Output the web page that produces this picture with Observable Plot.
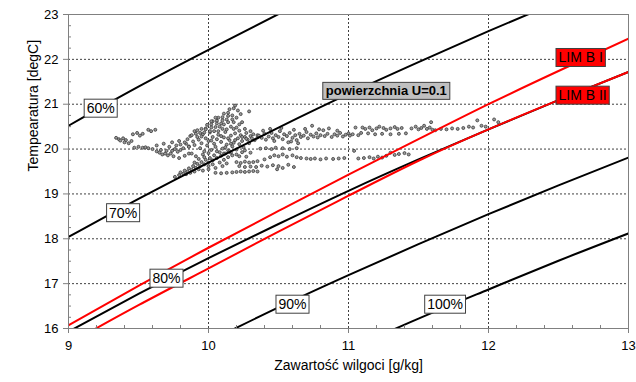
<!DOCTYPE html>
<html><head><meta charset="utf-8">
<script src="https://cdn.jsdelivr.net/npm/d3@7"></script>
<script src="https://cdn.jsdelivr.net/npm/@observablehq/plot@0.6"></script>
<style>
body{margin:0;background:#fff;}
svg{font-family:"Liberation Sans",Arial,sans-serif;}
</style>
</head><body><div id="chart"></div>
<script>
// ---- axes ----
const xTicks = [9, 10, 11, 12, 13];
const yTicks = [16, 17, 18, 19, 20, 21, 22, 23];
const xGrid = [10, 11, 12];
const yGrid = [17, 18, 19, 20, 21, 22];
const xMinor = [9.2,9.4,9.6,9.8,10.2,10.4,10.6,10.8,11.2,11.4,11.6,11.8,12.2,12.4,12.6,12.8];
const yMinor = [16.25,16.5,16.75,17.25,17.5,17.75,18.25,18.5,18.75,19.25,19.5,19.75,20.25,20.5,20.75,21.25,21.5,21.75,22.25,22.5,22.75];
const xTitle = "Zawartość wilgoci [g/kg]";
const yTitle = "Tempearatura [degC]";

// ---- relative humidity curves (moisture content g/kg -> temperature) ----
const rh60X = [9, 9.5, 10, 10.5];
const rh60T = [20.52, 21.39, 22.21, 23.01];
const rh70X = [9, 9.5, 10, 10.5, 11, 11.5, 12, 12.5];
const rh70T = [18.04, 18.89, 19.70, 20.48, 21.23, 21.94, 22.63, 23.29];
const rh80X = [9, 9.5, 10, 10.5, 11, 11.5, 12, 12.5, 13];
const rh80T = [15.93, 16.77, 17.57, 18.33, 19.07, 19.77, 20.44, 21.09, 21.72];
const rh90X = [10, 10.5, 11, 11.5, 12, 12.5, 13];
const rh90T = [15.71, 16.47, 17.19, 17.88, 18.55, 19.19, 19.81];
const rh100X = [11, 11.5, 12, 12.5, 13];
const rh100T = [15.53, 16.22, 16.87, 17.51, 18.12];

// ---- limit lines ----
const limX = [9, 9.5, 10, 10.5, 11, 11.5, 12, 12.5, 13];
const limB1T = [16.07, 16.95, 17.80, 18.62, 19.43, 20.22, 21.00, 21.74, 22.46];
const limB2T = [15.66, 16.52, 17.34, 18.16, 18.96, 19.74, 20.44, 21.09, 21.72];

// ---- labels ----
const rhLabels = ["60%", "70%", "80%", "90%", "100%"];
const rhLabelX = [9.23, 9.39, 9.70, 10.60, 11.69];
const rhLabelY = [20.90, 18.57, 17.11, 16.53, 16.53];
const surfLabel = "powierzchnia U=0.1";
const surfLabelX = 11.27, surfLabelY = 21.29;
const limLabels = ["LIM B I", "LIM B II"];
const limLabelX = [12.50, 12.50];
const limLabelY = [22.03, 21.19];

// ---- measured points [moisture g/kg, temperature degC] ----
const tailPts = [
 [9.34,20.25],[9.36,20.22],[9.37,20.19],[9.39,20.24],[9.41,20.20],[9.40,20.15],[9.43,20.13],[9.45,20.18],
 [9.46,20.33],[9.49,20.36],[9.51,20.30],[9.53,20.34],[9.57,20.43],[9.59,20.40],[9.62,20.43],
 [9.47,20.03],[9.50,20.05],[9.53,20.03],[9.55,20.04],[9.57,20.02],[9.60,20.00],[9.63,19.95],[9.65,19.92],
 [9.67,19.88],[9.69,19.90],[9.71,19.86],[9.73,19.90],[9.66,19.98],[9.70,19.96],[9.74,19.96],[9.76,20.00],
 [9.78,19.94],[9.80,19.98],[9.82,20.02],[9.72,20.05],[9.77,20.08],[9.80,20.10],[9.84,20.12],[9.86,20.06],
 [9.75,19.84],[9.79,19.80],[9.83,19.85],[9.86,19.90],[9.68,20.12],[9.74,20.15],[9.79,20.18],[9.63,20.08]
];
const blobPts = [
 [9.85,20.22],[9.87,20.29],[9.89,20.17],[9.90,20.09],[9.92,20.27],[9.93,20.21],[9.94,20.02],[9.95,20.13],
 [9.96,20.33],[9.97,19.95],[9.98,20.24],[9.99,20.08],[10.00,20.18],[10.01,20.37],[10.02,19.98],[10.03,20.27],
 [10.04,20.12],[10.05,20.05],[10.06,20.22],[10.07,20.32],[10.08,19.93],[10.09,20.16],[10.10,20.01],[10.11,20.26],
 [10.12,20.38],[10.13,20.10],[10.14,19.97],[10.15,20.20],[10.16,20.30],[10.17,20.06],[10.18,20.14],[10.19,20.35],
 [10.20,19.99],[10.21,20.24],[10.22,20.11],[10.23,20.31],[10.24,20.18],[10.25,20.04],[10.26,20.27],[10.27,20.36],
 [10.28,20.21],[10.29,20.13],[10.30,20.29],[10.31,20.24],[10.32,20.33],[10.33,20.20],[9.88,19.90],[9.91,19.84],
 [9.96,19.88],[10.00,19.91],[10.04,19.86],[10.07,20.40],[10.13,20.44],[10.18,20.45],[10.22,20.41],[9.90,20.40],
 [9.94,20.36],[10.09,20.29],[10.02,20.19],[10.14,20.24],[10.19,20.20],[10.24,20.27],[10.12,20.04],[10.16,20.12],
 [10.27,20.23],[10.35,20.26],[10.35,20.31],[9.83,20.15],[9.86,20.05],[10.06,19.95],[10.11,19.90],[10.16,19.92],
 [10.20,19.88],[10.24,19.93],[10.26,19.97],[10.30,19.92],[10.22,19.84],[10.27,19.83],
 [9.88,20.31],[9.91,20.34],[9.92,20.42],[9.95,20.45],[9.98,20.46],[9.99,20.54],[10.02,20.55],[10.03,20.62],
 [10.06,20.63],[10.07,20.70],[10.10,20.71],[10.11,20.79],[10.14,20.81],[10.15,20.89],[10.18,20.91],[10.19,20.97],
 [9.95,20.28],[9.97,20.37],[10.01,20.40],[10.02,20.48],[10.05,20.49],[10.06,20.57],[10.09,20.57],[10.10,20.64],
 [10.13,20.66],[10.14,20.74],[10.17,20.75],[10.21,20.86],[10.23,20.78],[10.29,20.84],[10.18,20.60],[10.22,20.55],
 [9.76,19.38],[9.79,19.42],[9.82,19.45],[9.85,19.50],[9.88,19.54],[9.91,19.58],[9.94,19.62],[9.97,19.66],
 [10.00,19.70],[10.03,19.75],[10.06,19.80],[10.09,19.85],[10.12,19.90],[10.15,19.95],
 [9.83,19.52],[9.86,19.57],[9.89,19.62],[9.92,19.67],[9.95,19.71],[9.98,19.76],[10.01,19.80],[9.96,19.52],[10.00,19.55],
 [9.80,19.48],[9.84,19.44],[9.87,19.47],[9.90,19.50],[9.93,19.55],[9.90,19.70],[9.93,19.78],[9.97,19.82],
 [10.00,19.62],[10.03,19.66],[10.05,19.58],[10.08,19.70],[10.11,19.76],[10.14,19.82],[10.17,19.86],[10.10,19.62],
 [10.13,19.68],[10.02,20.62],[10.05,20.70],[10.08,20.50],[10.11,20.55],[10.14,20.60],[10.17,20.66],[10.20,20.70],
 [10.10,20.45],[10.16,20.50],[10.20,20.48],[10.24,20.60],[9.98,20.44],[10.04,20.40],[10.26,20.45],[10.30,20.40]
];
const upperBandPts = [
 [10.36,20.30],[10.38,20.25],[10.40,20.34],[10.41,20.21],[10.43,20.28],[10.45,20.36],[10.46,20.24],[10.48,20.31],
 [10.50,20.27],[10.51,20.40],[10.53,20.22],[10.54,20.33],[10.56,20.29],[10.58,20.36],[10.59,20.17],[10.60,20.25],
 [10.62,20.31],[10.63,20.20],[10.65,20.34],[10.66,20.27],[10.68,20.30],[10.70,20.38],[10.71,20.24],[10.73,20.32],
 [10.74,20.52],[10.75,20.28],[10.77,20.35],[10.78,20.26],[10.80,20.31],[10.82,20.42],[10.83,20.29],[10.85,20.34],
 [10.86,20.46],[10.88,20.27],[10.90,20.33],[10.92,20.30],[10.94,20.36],[10.96,20.28],[10.98,20.32],[11.00,20.35],
 [11.01,20.30],[11.03,20.33],[11.05,20.48],[11.07,20.31],[11.09,20.36],[11.10,20.48],[10.44,20.45],[10.52,20.47],
 [10.61,20.43],[10.69,20.45],[10.79,20.44],[10.92,20.41],[10.57,20.15],[10.64,20.13],[10.47,20.18],[10.39,20.41],
 [11.12,20.45],[11.15,20.48],[11.17,20.42],[11.20,20.46],[11.22,20.50],[11.25,20.47],[11.27,20.43],[11.30,20.46],
 [11.33,20.49],[11.35,20.45],[11.38,20.47],[11.14,20.35],[11.19,20.33],[11.24,20.34],[11.30,20.33],[11.36,20.34],
 [11.41,20.35],[11.45,20.46],[11.48,20.50],[11.50,20.44],[11.52,20.47],[11.54,20.52],[11.56,20.45],[11.58,20.48],
 [11.60,20.43],[11.59,20.60],[11.62,20.42],[11.66,20.45],[11.70,20.44],[11.74,20.46],[11.78,20.45],[11.82,20.47],
 [11.86,20.50],[11.89,20.48],[11.92,20.64],[11.95,20.52],[11.98,20.50],[12.04,20.66],[12.07,20.60]
];
const lowerBandPts = [
 [10.20,19.71],[10.23,19.69],[10.26,19.72],[10.29,19.70],[10.32,19.71],[10.35,19.73],[10.20,19.49],[10.23,19.50],
 [10.26,19.49],[10.29,19.50],[10.32,19.51],[10.35,19.50],[10.05,19.47],[10.09,19.46],[10.13,19.47],[10.17,19.48],
 [10.37,20.01],[10.41,20.02],[10.45,20.00],[10.48,20.03],[10.53,20.02],[10.58,20.00],[10.63,20.02],
 [10.40,19.77],[10.44,19.82],[10.47,19.86],[10.50,19.84],[10.53,19.88],[10.56,19.83],[10.60,19.86],[10.63,19.82],
 [10.66,19.80],[10.70,19.79],[10.73,19.78],[10.76,19.79],[10.80,19.77],[10.84,19.79],[10.89,19.78],[10.93,19.79],
 [10.97,19.80],[11.04,19.96],[11.07,19.79],[11.11,19.80],[11.15,19.82],[11.18,19.79],[11.21,19.83],[11.24,19.81],
 [11.27,19.85],[11.30,19.92],[11.33,19.87],[11.36,19.89],[11.40,19.91],[11.43,19.88],
 [10.22,19.62],[10.26,19.60],[10.30,19.61],[10.34,19.60],[10.38,19.63],[10.42,19.61],[10.46,19.64],[10.50,19.62],
 [10.53,19.58],[10.57,19.65],[10.61,19.60],[10.49,19.55]
];

// ---- build tables ----
const toRows = (xs, ts, name) => xs.map((x, i) => ({x, y: ts[i], name}));
const rhCurves = [
  ...toRows(rh60X, rh60T, "60"), ...toRows(rh70X, rh70T, "70"), ...toRows(rh80X, rh80T, "80"),
  ...toRows(rh90X, rh90T, "90"), ...toRows(rh100X, rh100T, "100")
];
const limCurves = [...toRows(limX, limB1T, "LIM B I"), ...toRows(limX, limB2T, "LIM B II")];
const points = [...tailPts, ...blobPts, ...upperBandPts, ...lowerBandPts];
const rhLabelRows = rhLabels.map((t, i) => ({t, x: rhLabelX[i], y: rhLabelY[i]}));
const limLabelRows = limLabels.map((t, i) => ({t, x: limLabelX[i], y: limLabelY[i]}));

const gridStyle = {stroke: "#000", strokeOpacity: 0.75, strokeDasharray: "2,2", strokeWidth: 1};

const chart = Plot.plot({
  width: 636, height: 382,
  marginLeft: 68, marginRight: 8, marginTop: 14, marginBottom: 54,
  x: {domain: [9, 13]},
  y: {domain: [16, 23]},
  style: {fontFamily: "'Liberation Sans', Arial, sans-serif", fontSize: "13px", color: "#000", background: "#fff"},
  marks: [
    Plot.gridY(yGrid, gridStyle),
    Plot.gridX(xGrid, gridStyle),
    Plot.dot(points, {x: d => d[0], y: d => d[1], r: 1.5, fill: "#9a9a9a", stroke: "#3a3a3a", strokeWidth: 0.8}),
    Plot.line(rhCurves, {x: "x", y: "y", z: "name", stroke: "#000", strokeWidth: 2, curve: "natural", clip: true}),
    Plot.line(limCurves, {x: "x", y: "y", z: "name", stroke: "#ff0000", strokeWidth: 2, curve: "natural", clip: true}),
    Plot.frame({stroke: "#808080"}),
    Plot.axisY(yTicks, {tickSize: 5, tickPadding: 5, label: null, tickFormat: d => String(d), stroke: "#808080", fill: "#000", fontSize: 13}),
    Plot.axisY(yMinor, {tickSize: 3, dx: 3, text: null, label: null, stroke: "#808080"}),
    Plot.axisX(xTicks, {tickSize: 5, tickPadding: 7, label: null, tickFormat: d => String(d), stroke: "#808080", fill: "#000", fontSize: 13}),
    Plot.axisX(xMinor, {tickSize: 3, dy: -3, text: null, label: null, stroke: "#808080"}),
    Plot.text([xTitle], {text: d => d, frameAnchor: "bottom", dy: 41, fontSize: 14, fill: "#000"}),
    Plot.text([yTitle], {text: d => d, frameAnchor: "left", dx: -35, rotate: -90, fontSize: 14, fill: "#000"}),
    Plot.text(rhLabelRows, {x: "x", y: "y", text: "t", fontSize: 14, fill: "#000", ariaDescription: "box-white"}),
    Plot.text([surfLabel], {x: () => surfLabelX, y: () => surfLabelY, text: d => d, fontSize: 13, fontWeight: "bold", fill: "#000", ariaDescription: "box-gray"}),
    Plot.text(limLabelRows, {x: "x", y: "y", text: "t", textAnchor: "start", fontSize: 14, fill: "#000", ariaDescription: "box-red"})
  ]
});
document.getElementById("chart").appendChild(chart);

function boxify(tag, fill, stroke, padX, padY) {
  chart.querySelectorAll(`g[aria-description="${tag}"] text`).forEach(t => {
    const b = t.getBBox();
    const r = document.createElementNS("http://www.w3.org/2000/svg", "rect");
    r.setAttribute("x", b.x - padX);
    r.setAttribute("y", b.y - padY);
    r.setAttribute("width", b.width + 2 * padX);
    r.setAttribute("height", b.height + 2 * padY);
    r.setAttribute("fill", fill);
    r.setAttribute("stroke", stroke);
    r.setAttribute("stroke-width", 1);
    const tr = t.getAttribute("transform");
    if (tr) r.setAttribute("transform", tr);
    t.parentNode.insertBefore(r, t);
  });
}
boxify("box-white", "#fff", "#404040", 2.5, 1);
boxify("box-gray", "#c0c0c0", "#404040", 3, 1);
boxify("box-red", "#ff0000", "#404040", 2.5, 1);
</script>
</body></html>
